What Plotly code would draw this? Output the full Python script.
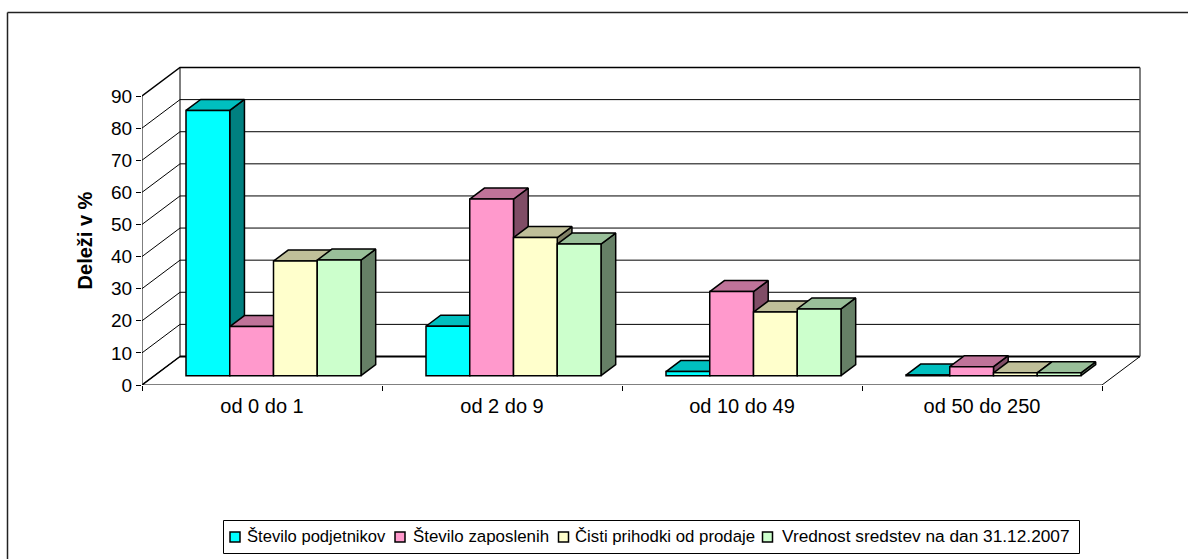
import plotly.graph_objects as go

categories = ["od 0 do 1", "od 2 do 9", "od 10 do 49", "od 50 do 250"]
series_names = ["Število podjetnikov", "Število zaposlenih", "Čisti prihodki od prodaje",
                "Vrednost sredstev na dan 31.12.2007"]
podjetniki = [82.6, 15.4, 1.3, 0.2]
zaposleni = [15.3, 55.0, 26.2, 2.8]
prihodki = [35.7, 43.0, 19.8, 0.9]
sredstva = [36.0, 41.0, 20.8, 0.9]
y_ticks = [0, 10, 20, 30, 40, 50, 60, 70, 80, 90]

all_values = [podjetniki, zaposleni, prihodki, sredstva]
front_colors = ["#00FFFF", "#FF99CC", "#FFFFCC", "#CCFFCC"]
top_colors = ["#00BFBF", "#BF7399", "#BFBF99", "#99BF99"]
side_colors = ["#008080", "#804D66", "#808066", "#668066"]

W, H = 1188, 559
MT, MB = 30, 30             # margins, wide enough that nothing pushes them
X0, X1 = 142.0, 1102.0      # pixel span of the four categories
Y0, Y1 = 385.0, 96.0        # pixel of value 0 and of value 90
BOX_X1, BOX_Y1 = 1145.0, 60.0  # pixel limits of the box subplot
N_CAT = len(categories)
PX_CAT = (X1 - X0) / N_CAT
PX_VAL = (Y0 - Y1) / 90
x_range_box = [0, (BOX_X1 - X0) / PX_CAT]
y_range_box = [0, (Y0 - BOX_Y1) / PX_VAL]
WALL_DX, WALL_DY = 38 / PX_CAT, 28.5 / PX_VAL    # depth of the box
BAR_DX, BAR_DY = 14.7 / PX_CAT, 11 / PX_VAL      # depth of a bar
BASE = 9.3 / PX_VAL
BAR_W = 43.75 / PX_CAT
GROUP_START = 44 / PX_CAT

fig = go.Figure()


def line(xs, ys, width=1, color="black"):
    fig.add_trace(go.Scatter(x=xs, y=ys, mode="lines", line=dict(color=color, width=width),
                             showlegend=False, hoverinfo="skip"))


# box: gridlines on side and back wall
for v in y_ticks:
    line([0, WALL_DX, N_CAT + WALL_DX], [v, v + WALL_DY, v + WALL_DY], width=1.5 if v == 90 else 1)
line([WALL_DX, N_CAT + WALL_DX], [WALL_DY, WALL_DY], width=2)
line([0, WALL_DX], [0, WALL_DY], width=1.5)
line([WALL_DX, WALL_DX], [WALL_DY, 90 + WALL_DY], width=1)
line([N_CAT + WALL_DX, N_CAT + WALL_DX], [WALL_DY, 90 + WALL_DY], width=1.5, color="#555555")
line([N_CAT, N_CAT + WALL_DX], [0, WALL_DY], width=1)
line([0, 0], [0, 90], width=1)
line([0, N_CAT], [0, 0], width=1)


# extruded side and top faces, computed from the values, painted left to right
def face(xs, ys, color):
    fig.add_trace(go.Scatter(x=xs, y=ys, mode="lines", fill="toself", fillcolor=color,
                             line=dict(color="black", width=1.5), showlegend=False,
                             hoverinfo="skip"))


for c in range(N_CAT):
    for s, vals in enumerate(all_values):
        left = c + GROUP_START + s * BAR_W
        right = left + BAR_W
        top = BASE + vals[c]
        face([right, right + BAR_DX, right + BAR_DX, right, right],
             [BASE, BASE + BAR_DY, top + BAR_DY, top, BASE], side_colors[s])
        face([left, left + BAR_DX, right + BAR_DX, right, left],
             [top, top + BAR_DY, top + BAR_DY, top, top], top_colors[s])

# front faces, in their own subplot that carries the visible axes
for s, vals in enumerate(all_values):
    fig.add_trace(go.Bar(
        x=[c + GROUP_START + (s + 0.5) * BAR_W for c in range(N_CAT)],
        y=vals, base=BASE, width=BAR_W, name=series_names[s], showlegend=False,
        marker=dict(color=front_colors[s], line=dict(color="black", width=1.5)),
        cliponaxis=False, xaxis="x2", yaxis="y2"))

FONT = "Liberation Sans, Arial, sans-serif"


def px(x):
    return x / W


def py(y):
    return (H - MB - y) / (H - MT - MB)


dom_x_box = [px(X0), px(BOX_X1)]
dom_y_box = [py(Y0), py(BOX_Y1)]
dom_x = [px(X0), px(X1)]
dom_y = [py(Y0), py(Y1)]

# legend box, swatches and labels, laid out as in the reference
LEG_BOX = (223.5, 1079.5, 520.5, 553.5)
SWATCH_LEFT = [230, 395, 558.5, 762.5]
TEXT_LEFT = [246, 412, 574, 781]
TEXT_SIZE = [16.6, 16.9, 16.8, 17.3]
SWATCH_Y = (532, 542)
shapes = [
    dict(type="line", xref="paper", yref="paper", x0=px(7.5), x1=px(1188), y0=py(12.5), y1=py(12.5),
         line=dict(color="#222222", width=1.5)),
    dict(type="line", xref="paper", yref="paper", x0=px(7.5), x1=px(7.5), y0=py(12.5), y1=py(559),
         line=dict(color="#222222", width=1.5)),
    dict(type="rect", xref="paper", yref="paper", x0=px(LEG_BOX[0]), x1=px(LEG_BOX[1]),
         y0=py(LEG_BOX[3]), y1=py(LEG_BOX[2]), line=dict(color="black", width=1), fillcolor="white"),
]
annotations = []
for s in range(4):
    shapes.append(dict(type="rect", xref="paper", yref="paper", x0=px(SWATCH_LEFT[s]), x1=px(SWATCH_LEFT[s] + 10),
                       y0=py(SWATCH_Y[1]), y1=py(SWATCH_Y[0]), fillcolor=front_colors[s],
                       line=dict(color="black", width=1.5)))
    annotations.append(dict(text=series_names[s], xref="paper", yref="paper", x=px(TEXT_LEFT[s]), y=py(536),
                            xanchor="left", yanchor="middle", showarrow=False, borderpad=0,
                            font=dict(size=TEXT_SIZE[s], color="black")))

fig.update_layout(
    width=W, height=H, margin=dict(l=0, r=0, t=MT, b=MB, pad=0),
    paper_bgcolor="white", plot_bgcolor="rgba(0,0,0,0)", barmode="overlay", showlegend=False,
    font=dict(family=FONT, size=18, color="black"),
    xaxis=dict(domain=dom_x_box, range=x_range_box, visible=False),
    yaxis=dict(domain=dom_y_box, range=y_range_box, visible=False),
    xaxis2=dict(anchor="y2", domain=dom_x, range=[0, N_CAT], showgrid=False, zeroline=False, showline=False,
                tickmode="array", tickvals=[c + 0.5 for c in range(N_CAT)], ticktext=categories,
                ticks="", ticklen=0, tickfont=dict(size=20), ticklabelstandoff=7,
                minor=dict(tickmode="array", tickvals=list(range(N_CAT + 1)), ticks="outside",
                           ticklen=5, tickcolor="black", tickwidth=1)),
    yaxis2=dict(anchor="x2", domain=dom_y, range=[0, 90], showgrid=False, zeroline=False, showline=False,
                tickmode="array", tickvals=y_ticks, ticks="outside", ticklen=5, tickcolor="black",
                tickfont=dict(size=19),
                title=dict(text="<b>Deleži v %</b>", font=dict(size=20), standoff=13)),
    shapes=shapes, annotations=annotations,
)
fig.write_html("out.html", config={"displayModeBar": False},
               post_script="document.body.style.margin='0';document.body.style.overflow='hidden';")
